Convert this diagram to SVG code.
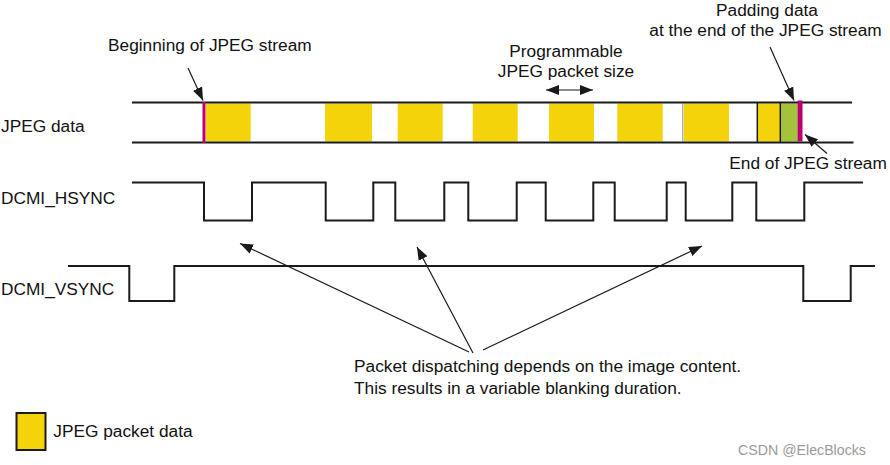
<svg xmlns="http://www.w3.org/2000/svg" width="890" height="465" viewBox="0 0 890 465">
<defs>
<style>
text{font-family:"Liberation Sans",Arial,sans-serif;font-size:17.3px;fill:#111}
.sig{fill:none;stroke:#1a1a1a;stroke-width:2}
.y{fill:#F4D30B}
.g{fill:#A4C23A}
.m{fill:#B8006E}
.ar{fill:none;stroke:#1a1a1a;stroke-width:1.2;marker-end:url(#ah)}
.wm{font-size:14.2px;fill:#9a9a9a}
</style>
<marker id="ah" markerUnits="userSpaceOnUse" markerWidth="14" markerHeight="11" refX="13" refY="5" orient="auto-start-reverse" viewBox="0 0 14 10">
<path d="M0,0 L13,5 L0,10 z" fill="#1a1a1a"/>
</marker>
</defs>
<rect width="890" height="465" fill="#fff"/>

<g id="jpeg-data">
<rect class="y" x="206" y="103.5" width="44.7" height="38"/>
<rect class="y" x="325" y="103.5" width="47" height="38"/>
<rect class="y" x="397.7" y="103.5" width="45" height="38"/>
<rect class="y" x="472.7" y="103.5" width="45" height="38"/>
<rect class="y" x="549" y="103.5" width="45" height="38"/>
<rect class="y" x="617.3" y="103.5" width="45.4" height="38"/>
<rect class="y" x="683.7" y="103.5" width="45.3" height="38"/>
<line x1="682.7" y1="103.5" x2="682.7" y2="141.5" stroke="#aaa" stroke-width="1.2"/>
<rect class="y" x="757.3" y="103.5" width="23" height="38"/>
<rect class="g" x="780.3" y="103.5" width="17.2" height="38"/>
<line x1="757.3" y1="103" x2="757.3" y2="142" stroke="#1a1a1a" stroke-width="1.5"/>
<line x1="780.3" y1="103" x2="780.3" y2="142" stroke="#1a1a1a" stroke-width="1.5"/>
<line class="sig" x1="132" y1="102.5" x2="852" y2="102.5"/>
<line class="sig" x1="132" y1="142.5" x2="853.5" y2="142.5"/>
<rect class="m" x="202.5" y="102" width="3" height="41"/>
<rect class="m" x="797.5" y="100.5" width="5" height="41"/>
<text x="1" y="132">JPEG data</text>
</g>

<g id="hsync">
<path class="sig" d="M132,182.5 H204 V220.5 H252 V182.5 H325.7 V220.5 H373.3 V182.5 H395.3 V220.5 H444.3 V182.5 H468.3 V220.5 H516.7 V182.5 H545.7 V220.5 H593.3 V182.5 H614.7 V220.5 H666.7 V182.5 H685.7 V220.5 H732.3 V182.5 H756.3 V220.5 H804.3 V182.5 H863"/>
<text x="1" y="204">DCMI_HSYNC</text>
</g>

<g id="vsync">
<path class="sig" d="M68,266 H129.3 V301 H174.3 V266 H803.3 V301 H850.7 V266 H875"/>
<text x="1" y="295">DCMI_VSYNC</text>
</g>

<g id="label-beginning">
<text x="108" y="51">Beginning of JPEG stream</text>
</g>
<g id="label-packet-size">
<text x="566" y="57" text-anchor="middle">Programmable</text>
<text x="566" y="77.3" text-anchor="middle">JPEG packet size</text>
</g>
<g id="label-padding">
<text x="767" y="15.5" text-anchor="middle">Padding data</text>
<text x="765.5" y="35.5" text-anchor="middle">at the end of the JPEG stream</text>
</g>
<g id="label-end">
<text x="729.3" y="169">End of JPEG stream</text>
</g>
<g id="label-dispatch">
<text x="354" y="372">Packet dispatching depends on the image content.</text>
<text x="354" y="393.5">This results in a variable blanking duration.</text>
</g>

<g id="connectors">
<line class="ar" x1="188" y1="68" x2="203" y2="100.5"/>
<line class="ar" x1="546" y1="90" x2="593" y2="90" marker-start="url(#ah)"/>
<line class="ar" x1="770" y1="47" x2="794" y2="100.5"/>
<line class="ar" x1="827" y1="153.5" x2="805" y2="134.5"/>
<line class="ar" x1="469" y1="352" x2="240" y2="243.5"/>
<line class="ar" x1="473" y1="353" x2="417" y2="247"/>
<line class="ar" x1="483" y1="350" x2="702" y2="246"/>
</g>

<g id="legend">
<rect x="16.5" y="413" width="29" height="37" fill="#F4D30B" stroke="#1a1a1a" stroke-width="2"/>
<text x="53.3" y="437">JPEG packet data</text>
</g>

<text class="wm" x="738" y="455">CSDN @ElecBlocks</text>
</svg>
